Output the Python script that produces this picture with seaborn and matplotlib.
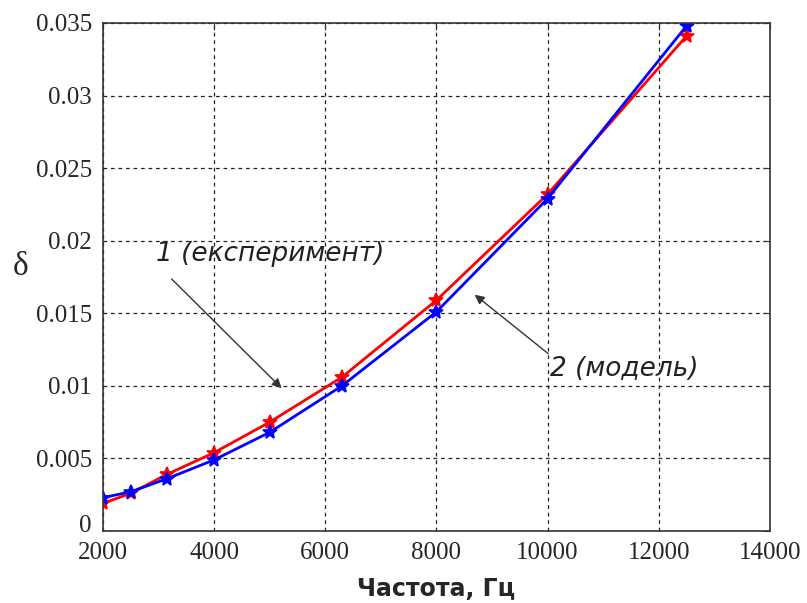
import matplotlib
matplotlib.use("Agg")
import matplotlib.pyplot as plt
import matplotlib.transforms as mtransforms
import seaborn as sns
import pandas as pd

freq = [2000, 2500, 3150, 4000, 5000, 6300, 8000, 10000, 12500]
experiment = [0.0019, 0.0026, 0.0039, 0.0054, 0.0075, 0.0106, 0.0159, 0.0232, 0.0341]
model = [0.0023, 0.0027, 0.0036, 0.0049, 0.0068, 0.0100, 0.0151, 0.0229, 0.0348]
xticks = [2000, 4000, 6000, 8000, 10000, 12000, 14000]
yticks = [0, 0.005, 0.01, 0.015, 0.02, 0.025, 0.03, 0.035]
ytick_labels = ["0", "0.005", "0.01", "0.015", "0.02", "0.025", "0.03", "0.035"]

sns.set_style("white")

df = pd.DataFrame({
    "freq": freq * 2,
    "delta": experiment + model,
    "series": ["exp"] * len(freq) + ["model"] * len(freq),
})

fig = plt.figure(figsize=(8.07, 6.03), dpi=100)
ax = fig.add_axes([0.1276, 0.1194, 0.8264, 0.8425])

sns.lineplot(data=df, x="freq", y="delta", hue="series",
             palette={"exp": "#ff0000", "model": "#0000ff"},
             marker="*", markersize=10, markeredgewidth=1.2, linewidth=2,
             legend=False, ax=ax, sort=False)
for ln in ax.lines:
    ln.set_markeredgecolor(ln.get_color())

ax.set_xlim(2000, 14000)
ax.set_ylim(0, 0.035)
ax.set_xticks(xticks)
ax.set_xticklabels([str(t) for t in xticks], fontfamily="Liberation Serif", fontsize=18)
ax.set_yticks(yticks)
ax.set_yticklabels(ytick_labels, fontfamily="Liberation Serif", fontsize=18)
ax.tick_params(direction="in", length=5, top=True, right=True, color="#333333")
ax.tick_params(axis="x", pad=8)
ax.tick_params(axis="y", pad=8)
# lift the "0" label a little, as in the reference
lab0 = ax.get_yticklabels()[0]
lab0.set_transform(lab0.get_transform() + mtransforms.ScaledTranslation(0, 8 / 100, fig.dpi_scale_trans))

ax.grid(True, color="#222222", linestyle=(0, (3, 3)), linewidth=0.9)
for s in ax.spines.values():
    s.set_color("#333333")
    s.set_linewidth(1.2)
    s.set_visible(True)

ax.set_xlabel("Частота, Гц", fontsize=17, fontweight="bold", fontfamily="DejaVu Sans", labelpad=9)
ax.set_ylabel("δ", fontsize=24, fontfamily="Liberation Serif", rotation=0)
ax.yaxis.set_label_coords(-0.123, 0.49)

ax.annotate("", xy=(5250, 0.0097), xytext=(3200, 0.0175),
            arrowprops=dict(arrowstyle="-|>", color="#333333", lw=1, mutation_scale=14))
ax.text(2950, 0.0186, "1 (експеримент)", fontsize=19, fontstyle="italic",
        fontfamily="DejaVu Sans", color="#222222")
ax.annotate("", xy=(8650, 0.0164), xytext=(10050, 0.0121),
            arrowprops=dict(arrowstyle="-|>", color="#333333", lw=1, mutation_scale=14))
ax.text(10050, 0.0107, "2 (модель)", fontsize=19, fontstyle="italic",
        fontfamily="DejaVu Sans", color="#222222")

fig.savefig("out.png", dpi=100)
